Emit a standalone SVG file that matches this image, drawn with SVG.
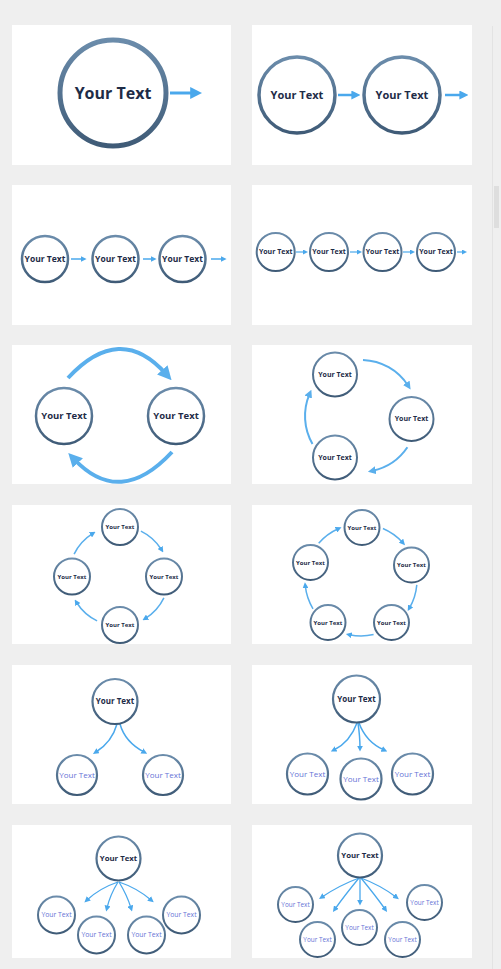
<svg xmlns="http://www.w3.org/2000/svg" width="501" height="969" viewBox="0 0 501 969">
<defs>
<linearGradient id="ring" x1="0" y1="0" x2="0" y2="1">
<stop offset="0" stop-color="#6b8cab"/>
<stop offset="1" stop-color="#3f5b77"/>
</linearGradient>
<marker id="m10" viewBox="0 0 10 10" refX="4" refY="5" markerWidth="12" markerHeight="12" markerUnits="userSpaceOnUse" orient="auto"><path d="M0,0 L10,5 L0,10 z" fill="#4aa8ec"/></marker>
<marker id="m8" viewBox="0 0 10 10" refX="4" refY="5" markerWidth="9" markerHeight="9" markerUnits="userSpaceOnUse" orient="auto"><path d="M0,0 L10,5 L0,10 z" fill="#4aa8ec"/></marker>
<marker id="m6" viewBox="0 0 10 10" refX="4" refY="5" markerWidth="6" markerHeight="6" markerUnits="userSpaceOnUse" orient="auto"><path d="M0,0 L10,5 L0,10 z" fill="#4aa8ec"/></marker>
<marker id="m5" viewBox="0 0 10 10" refX="4" refY="5" markerWidth="5" markerHeight="5" markerUnits="userSpaceOnUse" orient="auto"><path d="M0,0 L10,5 L0,10 z" fill="#4aa8ec"/></marker>
<marker id="m14" viewBox="0 0 10 10" refX="4" refY="5" markerWidth="14" markerHeight="14" markerUnits="userSpaceOnUse" orient="auto"><path d="M0,0 L10,5 L0,10 z" fill="#5aafec"/></marker>
<marker id="m7" viewBox="0 0 10 10" refX="4" refY="5" markerWidth="8" markerHeight="8" markerUnits="userSpaceOnUse" orient="auto"><path d="M0,0 L10,5 L0,10 z" fill="#5aafec"/></marker>
</defs>
<style>
.bg{fill:#efefef}
.panel{fill:#ffffff}
.n{fill:#ffffff;stroke:url(#ring)}
.t{font-family:"Open Sans","Liberation Sans",sans-serif;font-weight:700;fill:#1e2c47;text-anchor:middle}
.s{font-family:"Open Sans","Liberation Sans",sans-serif;font-weight:400;fill:#6673d6;text-anchor:middle}
.c{fill:none;stroke:#4aa8ec;stroke-linecap:butt}
.arc{fill:none;stroke:#5aafec}
</style>
<rect class="bg" x="0" y="0" width="501" height="969"/>
<rect x="492" y="26" width="1" height="943" fill="#e3e3e3"/>
<rect x="494" y="186" width="5" height="42" fill="#dedede"/>
<g id="panels">
<rect class="panel" x="12" y="25" width="219" height="140"/>
<rect class="panel" x="252" y="25" width="220" height="140"/>
<rect class="panel" x="12" y="185" width="219" height="140"/>
<rect class="panel" x="252" y="185" width="220" height="140"/>
<rect class="panel" x="12" y="345" width="219" height="139"/>
<rect class="panel" x="252" y="345" width="220" height="139"/>
<rect class="panel" x="12" y="505" width="219" height="139"/>
<rect class="panel" x="252" y="505" width="220" height="139"/>
<rect class="panel" x="12" y="665" width="219" height="139"/>
<rect class="panel" x="252" y="665" width="220" height="139"/>
<rect class="panel" x="12" y="825" width="219" height="133"/>
<rect class="panel" x="252" y="825" width="220" height="133"/>
</g>
<g id="connectors">
<line class="c" x1="170" y1="93" x2="195" y2="93" stroke-width="3" marker-end="url(#m10)"/>
<line class="c" x1="338" y1="95" x2="355" y2="95" stroke-width="2.5" marker-end="url(#m8)"/>
<line class="c" x1="445" y1="95" x2="463" y2="95" stroke-width="2.5" marker-end="url(#m8)"/>
<line class="c" x1="71" y1="259" x2="83" y2="259" stroke-width="1.5" marker-end="url(#m6)"/>
<line class="c" x1="143" y1="259" x2="153" y2="259" stroke-width="1.5" marker-end="url(#m6)"/>
<line class="c" x1="211" y1="259" x2="223" y2="259" stroke-width="1.5" marker-end="url(#m6)"/>
<line class="c" x1="296" y1="252" x2="305" y2="252" stroke-width="1.2" marker-end="url(#m5)"/>
<line class="c" x1="350" y1="252" x2="359" y2="252" stroke-width="1.2" marker-end="url(#m5)"/>
<line class="c" x1="403" y1="252" x2="412" y2="252" stroke-width="1.2" marker-end="url(#m5)"/>
<line class="c" x1="457" y1="252" x2="464" y2="252" stroke-width="1.2" marker-end="url(#m5)"/>
<path class="arc" d="M68 378 Q120 322 166 374" stroke-width="4" marker-end="url(#m14)"/>
<path class="arc" d="M172 452 Q120 508 74 459" stroke-width="4" marker-end="url(#m14)"/>
<path class="arc" d="M363 360 A56 56 0 0 1 408 385.5" stroke-width="2" marker-end="url(#m7)"/>
<path class="arc" d="M407.4 447.3 A56 56 0 0 1 372.6 470.8" stroke-width="2" marker-end="url(#m7)"/>
<path class="arc" d="M312.5 444 A56 56 0 0 1 309.5 394.1" stroke-width="2" marker-end="url(#m7)"/>
<path class="arc" d="M140.9 531.1 A50 50 0 0 1 161.4 549.5" stroke-width="1.5" marker-end="url(#m6)"/>
<path class="arc" d="M163.9 597.9 A50 50 0 0 1 145.5 618.4" stroke-width="1.5" marker-end="url(#m6)"/>
<path class="arc" d="M97.1 620.9 A50 50 0 0 1 76.6 602.5" stroke-width="1.5" marker-end="url(#m6)"/>
<path class="arc" d="M74.1 554.1 A50 50 0 0 1 92.5 533.6" stroke-width="1.5" marker-end="url(#m6)"/>
<path class="arc" d="M382.9 528.5 A56 56 0 0 1 402.6 542.5" stroke-width="1.5" marker-end="url(#m6)"/>
<path class="arc" d="M416.8 584.9 A56 56 0 0 1 409.5 608" stroke-width="1.5" marker-end="url(#m6)"/>
<path class="arc" d="M373.6 634.6 A56 56 0 0 1 349.4 634.8" stroke-width="1.5" marker-end="url(#m6)"/>
<path class="arc" d="M313 608.8 A56 56 0 0 1 305.3 585.9" stroke-width="1.5" marker-end="url(#m6)"/>
<path class="arc" d="M318.7 543.3 A56 56 0 0 1 338.2 528.8" stroke-width="1.5" marker-end="url(#m6)"/>
<path class="c" d="M117 724 Q112 742 96 752" stroke-width="1.5" marker-end="url(#m6)"/>
<path class="c" d="M120 724 Q125 742 144 752" stroke-width="1.5" marker-end="url(#m6)"/>
<path class="c" d="M357 723 Q350 742 334 750" stroke-width="1.5" marker-end="url(#m6)"/>
<path class="c" d="M358 723 Q360 737 360 748" stroke-width="1.5" marker-end="url(#m6)"/>
<path class="c" d="M359 723 Q366 742 384 750" stroke-width="1.5" marker-end="url(#m6)"/>
<path class="c" d="M118 882 Q100 888 87 900" stroke-width="1.3" marker-end="url(#m6)"/>
<path class="c" d="M118 882 Q110 895 107 908" stroke-width="1.3" marker-end="url(#m6)"/>
<path class="c" d="M119 882 Q127 895 131 908" stroke-width="1.3" marker-end="url(#m6)"/>
<path class="c" d="M119 882 Q137 888 151 900" stroke-width="1.3" marker-end="url(#m6)"/>
<path class="c" d="M359 878 Q340 885 322 897" stroke-width="1.3" marker-end="url(#m6)"/>
<path class="c" d="M359 878 Q345 895 335 909" stroke-width="1.3" marker-end="url(#m6)"/>
<path class="c" d="M360 878 Q360 892 360 902" stroke-width="1.3" marker-end="url(#m6)"/>
<path class="c" d="M361 878 Q375 895 385 909" stroke-width="1.3" marker-end="url(#m6)"/>
<path class="c" d="M361 878 Q380 885 396 897" stroke-width="1.3" marker-end="url(#m6)"/>
</g>
<g id="p1n1"><circle class="n" cx="113" cy="93" r="53" stroke-width="5"/><text class="t" x="113" y="93" dy=".35em" font-size="16">Your Text</text></g>
<g id="p2n1"><circle class="n" cx="297" cy="95" r="38" stroke-width="3.5"/><text class="t" x="297" y="95" dy=".35em" font-size="11">Your Text</text></g>
<g id="p2n2"><circle class="n" cx="402" cy="95" r="38" stroke-width="3.5"/><text class="t" x="402" y="95" dy=".35em" font-size="11">Your Text</text></g>
<g id="p3n1"><circle class="n" cx="45" cy="259" r="23" stroke-width="2.5"/><text class="t" x="45" y="259" dy=".35em" font-size="8.5">Your Text</text></g>
<g id="p3n2"><circle class="n" cx="115.5" cy="259" r="23" stroke-width="2.5"/><text class="t" x="115.5" y="259" dy=".35em" font-size="8.5">Your Text</text></g>
<g id="p3n3"><circle class="n" cx="182.5" cy="259" r="23" stroke-width="2.5"/><text class="t" x="182.5" y="259" dy=".35em" font-size="8.5">Your Text</text></g>
<g id="p4n1"><circle class="n" cx="275.7" cy="252" r="19" stroke-width="2"/><text class="t" x="275.7" y="252" dy=".35em" font-size="7">Your Text</text></g>
<g id="p4n2"><circle class="n" cx="329" cy="252" r="19" stroke-width="2"/><text class="t" x="329" y="252" dy=".35em" font-size="7">Your Text</text></g>
<g id="p4n3"><circle class="n" cx="382.5" cy="252" r="19" stroke-width="2"/><text class="t" x="382.5" y="252" dy=".35em" font-size="7">Your Text</text></g>
<g id="p4n4"><circle class="n" cx="436" cy="252" r="19" stroke-width="2"/><text class="t" x="436" y="252" dy=".35em" font-size="7">Your Text</text></g>
<g id="p5n1"><circle class="n" cx="64" cy="416" r="28" stroke-width="2.5"/><text class="t" x="64" y="416" dy=".35em" font-size="9.5">Your Text</text></g>
<g id="p5n2"><circle class="n" cx="176" cy="416" r="28" stroke-width="2.5"/><text class="t" x="176" y="416" dy=".35em" font-size="9.5">Your Text</text></g>
<g id="p6n1"><circle class="n" cx="335" cy="374.5" r="22" stroke-width="2"/><text class="t" x="335" y="374.5" dy=".35em" font-size="7">Your Text</text></g>
<g id="p6n2"><circle class="n" cx="411.5" cy="419" r="22" stroke-width="2"/><text class="t" x="411.5" y="419" dy=".35em" font-size="7">Your Text</text></g>
<g id="p6n3"><circle class="n" cx="335" cy="457.5" r="22" stroke-width="2"/><text class="t" x="335" y="457.5" dy=".35em" font-size="7">Your Text</text></g>
<g id="p7n1"><circle class="n" cx="120" cy="527" r="18" stroke-width="2"/><text class="t" x="120" y="527" dy=".35em" font-size="6">Your Text</text></g>
<g id="p7n2"><circle class="n" cx="164" cy="576.5" r="18" stroke-width="2"/><text class="t" x="164" y="576.5" dy=".35em" font-size="6">Your Text</text></g>
<g id="p7n3"><circle class="n" cx="120" cy="625" r="18" stroke-width="2"/><text class="t" x="120" y="625" dy=".35em" font-size="6">Your Text</text></g>
<g id="p7n4"><circle class="n" cx="72" cy="576.5" r="18" stroke-width="2"/><text class="t" x="72" y="576.5" dy=".35em" font-size="6">Your Text</text></g>
<g id="p8n1"><circle class="n" cx="362" cy="527.5" r="17.5" stroke-width="2"/><text class="t" x="362" y="527.5" dy=".35em" font-size="6">Your Text</text></g>
<g id="p8n2"><circle class="n" cx="411.5" cy="565" r="17.5" stroke-width="2"/><text class="t" x="411.5" y="565" dy=".35em" font-size="6">Your Text</text></g>
<g id="p8n3"><circle class="n" cx="391.5" cy="622.5" r="17.5" stroke-width="2"/><text class="t" x="391.5" y="622.5" dy=".35em" font-size="6">Your Text</text></g>
<g id="p8n4"><circle class="n" cx="328" cy="622.5" r="17.5" stroke-width="2"/><text class="t" x="328" y="622.5" dy=".35em" font-size="6">Your Text</text></g>
<g id="p8n5"><circle class="n" cx="310.5" cy="562.5" r="17.5" stroke-width="2"/><text class="t" x="310.5" y="562.5" dy=".35em" font-size="6">Your Text</text></g>
<g id="p9n1"><circle class="n" cx="115" cy="701.5" r="22.5" stroke-width="2.2"/><text class="t" x="115" y="701.5" dy=".35em" font-size="8">Your Text</text></g>
<g id="p9n2"><circle class="n" cx="77" cy="775" r="20" stroke-width="2.2"/><text class="s" x="77" y="775" dy=".35em" font-size="8">Your Text</text></g>
<g id="p9n3"><circle class="n" cx="163" cy="775" r="20" stroke-width="2.2"/><text class="s" x="163" y="775" dy=".35em" font-size="8">Your Text</text></g>
<g id="p10n1"><circle class="n" cx="356.5" cy="699" r="23.5" stroke-width="2.2"/><text class="t" x="356.5" y="699" dy=".35em" font-size="8">Your Text</text></g>
<g id="p10n2"><circle class="n" cx="307.5" cy="774" r="20.5" stroke-width="2.2"/><text class="s" x="307.5" y="774" dy=".35em" font-size="8">Your Text</text></g>
<g id="p10n3"><circle class="n" cx="361" cy="779" r="20.5" stroke-width="2.2"/><text class="s" x="361" y="779" dy=".35em" font-size="8">Your Text</text></g>
<g id="p10n4"><circle class="n" cx="412.5" cy="774" r="20.5" stroke-width="2.2"/><text class="s" x="412.5" y="774" dy=".35em" font-size="8">Your Text</text></g>
<g id="p11n1"><circle class="n" cx="118.5" cy="858.5" r="22" stroke-width="2.2"/><text class="t" x="118.5" y="858.5" dy=".35em" font-size="7.8">Your Text</text></g>
<g id="p11n2"><circle class="n" cx="56.5" cy="915" r="18.5" stroke-width="2"/><text class="s" x="56.5" y="915" dy=".35em" font-size="6.8">Your Text</text></g>
<g id="p11n3"><circle class="n" cx="96.5" cy="935" r="18.5" stroke-width="2"/><text class="s" x="96.5" y="935" dy=".35em" font-size="6.8">Your Text</text></g>
<g id="p11n4"><circle class="n" cx="146.5" cy="935" r="18.5" stroke-width="2"/><text class="s" x="146.5" y="935" dy=".35em" font-size="6.8">Your Text</text></g>
<g id="p11n5"><circle class="n" cx="181.5" cy="915" r="18.5" stroke-width="2"/><text class="s" x="181.5" y="915" dy=".35em" font-size="6.8">Your Text</text></g>
<g id="p12n1"><circle class="n" cx="360" cy="855.5" r="22" stroke-width="2.2"/><text class="t" x="360" y="855.5" dy=".35em" font-size="7.8">Your Text</text></g>
<g id="p12n2"><circle class="n" cx="295.5" cy="904.5" r="17.5" stroke-width="2"/><text class="s" x="295.5" y="904.5" dy=".35em" font-size="6.4">Your Text</text></g>
<g id="p12n3"><circle class="n" cx="317.5" cy="939.5" r="17.5" stroke-width="2"/><text class="s" x="317.5" y="939.5" dy=".35em" font-size="6.4">Your Text</text></g>
<g id="p12n4"><circle class="n" cx="359.5" cy="927.5" r="17.5" stroke-width="2"/><text class="s" x="359.5" y="927.5" dy=".35em" font-size="6.4">Your Text</text></g>
<g id="p12n5"><circle class="n" cx="402.5" cy="939.5" r="17.5" stroke-width="2"/><text class="s" x="402.5" y="939.5" dy=".35em" font-size="6.4">Your Text</text></g>
<g id="p12n6"><circle class="n" cx="424.5" cy="902.5" r="17.5" stroke-width="2"/><text class="s" x="424.5" y="902.5" dy=".35em" font-size="6.4">Your Text</text></g>
</svg>
